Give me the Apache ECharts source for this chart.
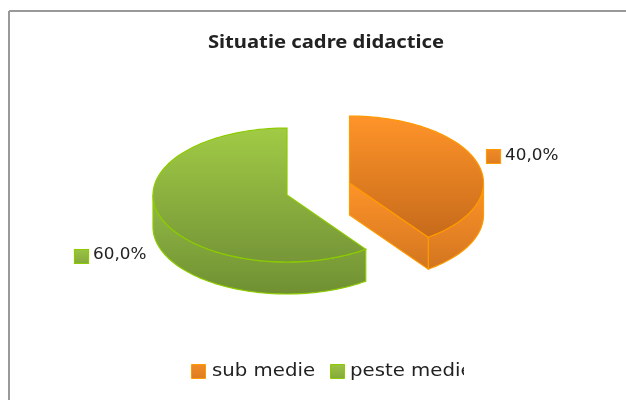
<!DOCTYPE html>
<html>
<head>
<meta charset="utf-8">
<style>
    html, body { margin: 0; padding: 0; background: #fff; }
    #main { width: 626px; height: 400px; filter: blur(0.6px); }
</style>
<script src="https://cdn.jsdelivr.net/npm/echarts@6/dist/echarts.min.js"></script>
</head>
<body>
<div id="main"></div>
<script>
    var title = 'Situatie cadre didactice';
    var categories = ['sub medie', 'peste medie'];
    var values = [40, 60];

    // layout of the two exploded slices, in pixels
    var centers = [[349.5, 183], [287, 195]];
    var labelPos = [[505, 156], [93, 255]];
    var labelIcon = [[486.5, 149.5], [74.5, 249.5]];
    var rx = 134, ry = 67, depth = 32;

    var palette = [
        { top: ['#ff9429', '#c66a1b'], wall: ['#ff9429', '#d27520'], icon: ['#f28a26', '#dc7d22'], line: '#ff9a00' },
        { top: ['#a1cb45', '#769638'], wall: ['#93bb46', '#6f8f32'], icon: ['#9cc444', '#84a83c'], line: '#8ccb00' }
    ];

    var total = 0;
    for (var i = 0; i < values.length; i++) { total += values[i]; }

    function grad(c) {
        return {
            type: 'linear', x: 0, y: 0, x2: 0, y2: 1,
            colorStops: [{ offset: 0, color: c[0] }, { offset: 1, color: c[1] }]
        };
    }

    // angles are clockwise from 12 o'clock, in degrees
    function pt(c, a, dy) {
        var r = a * Math.PI / 180;
        return [c[0] + rx * Math.sin(r), c[1] - ry * Math.cos(r) + (dy || 0)];
    }

    function arc(c, from, to, dy) {
        var list = [];
        for (var a = from; a < to; a += 2) { list.push(pt(c, a, dy)); }
        list.push(pt(c, to, dy));
        return list;
    }

    function renderSlice(idx, params, api) {
        var value = api.value(0);
        var start = 0;
        for (var i = 0; i < idx; i++) { start += values[i] / total * 360; }
        var end = start + value / total * 360;
        var c = centers[idx], p = palette[idx];
        var children = [];
        var style = function (colors) {
            return { fill: grad(colors), stroke: p.line, lineWidth: 1.2 };
        };

        // outer wall, only the front half shows
        var wFrom = Math.max(start, 90), wTo = Math.min(end, 270);
        if (wFrom < wTo) {
            children.push({
                type: 'polygon',
                shape: { points: arc(c, wFrom, wTo, 0).concat(arc(c, wFrom, wTo, depth).reverse()) },
                style: style(p.wall)
            });
        }
        // cut face of the slice
        if (end > 0 && end < 180) {
            var e = pt(c, end);
            children.push({
                type: 'polygon',
                shape: { points: [c, e, [e[0], e[1] + depth], [c[0], c[1] + depth]] },
                style: style(p.wall)
            });
        }
        // top
        children.push({
            type: 'polygon',
            shape: { points: [c].concat(arc(c, start, end, 0)) },
            style: style(p.top)
        });
        // data label with its key
        children.push({
            type: 'rect',
            shape: { x: labelIcon[idx][0], y: labelIcon[idx][1], width: 14, height: 14 },
            style: style(p.icon)
        });
        children.push({
            type: 'text',
            x: labelPos[idx][0], y: labelPos[idx][1],
            scaleX: 1.05,
            style: {
                text: (value / total * 100).toFixed(1).replace('.', ',') + '%',
                font: '16px "DejaVu Sans"', fill: '#222',
                verticalAlign: 'middle'
            }
        });
        return { type: 'group', children: children };
    }

    var series = [];
    categories.forEach(function (name, idx) {
        series.push({
            type: 'custom',
            name: name,
            coordinateSystem: 'none',
            silent: true,
            animation: false,
            data: [[values[idx]]],
            renderItem: function (params, api) { return renderSlice(idx, params, api); }
        });
    });

    var myChart = echarts.init(document.getElementById('main'));
    myChart.setOption({
        animation: false,
        backgroundColor: '#fff',
        graphic: [
            // frame of the original picture
            { type: 'line', shape: { x1: 9, y1: 11, x2: 626, y2: 11 }, style: { stroke: '#999', lineWidth: 2 } },
            { type: 'line', shape: { x1: 9, y1: 11, x2: 9, y2: 400 }, style: { stroke: '#999', lineWidth: 2 } },
            // title, the original is stretched sideways
            { type: 'text', x: 326, y: 43, scaleX: 1.19, style: { text: title, font: 'bold 17px "Noto Sans"', fill: '#222', align: 'center', verticalAlign: 'middle' } },
            // legend
            { type: 'rect', shape: { x: 191.5, y: 364.5, width: 14, height: 14 }, style: { fill: grad(palette[0].icon), stroke: palette[0].line } },
            { type: 'text', x: 212, y: 372, scaleX: 1.16, style: { text: categories[0], font: '17px "DejaVu Sans"', fill: '#222', verticalAlign: 'middle' } },
            { type: 'rect', shape: { x: 330.5, y: 364.5, width: 14, height: 14 }, style: { fill: grad(palette[1].icon), stroke: palette[1].line } },
            { type: 'text', x: 350, y: 372, scaleX: 1.16, style: { text: categories[1], font: '17px "DejaVu Sans"', fill: '#222', verticalAlign: 'middle' } },
            // the legend is cut off here in the original
            { type: 'rect', z: 10, shape: { x: 464, y: 358, width: 60, height: 30 }, style: { fill: '#fff' } }
        ],
        series: series
    });
</script>
</body>
</html>
